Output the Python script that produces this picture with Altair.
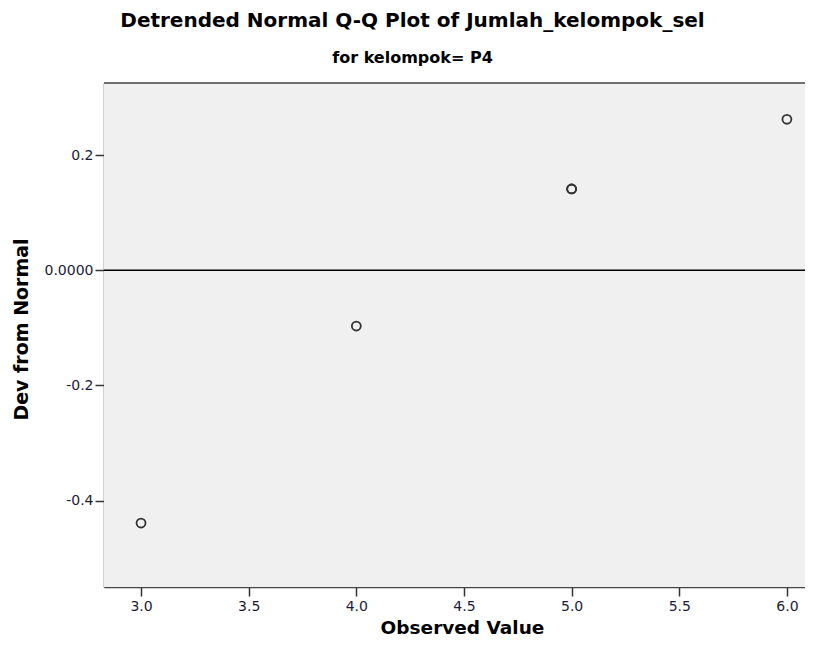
import altair as alt
import pandas as pd

# Data
observed = [3.0, 4.0, 5.0, 5.0, 6.0]
dev_from_normal = [-0.439, -0.097, 0.141, 0.141, 0.262]

x_ticks = [3.0, 3.5, 4.0, 4.5, 5.0, 5.5, 6.0]
y_ticks = [-0.4, -0.2, 0.0, 0.2]

df = pd.DataFrame({"Observed": observed, "Dev": dev_from_normal})
zero_df = pd.DataFrame({"y": [0.0]})

FONT = "DejaVu Sans"

x_scale = alt.Scale(domain=[2.828, 6.084], nice=False, zero=False)
y_scale = alt.Scale(domain=[-0.550, 0.325], nice=False, zero=False)

background = alt.Chart(zero_df).mark_rect(color="#f0f0f0").encode(
    x=alt.value(0), x2=alt.value(701), y=alt.value(0), y2=alt.value(504)
)

points = alt.Chart(df).mark_point(
    shape="circle", filled=False, size=80, strokeWidth=1.8, color="#333333", opacity=1
).encode(
    x=alt.X("Observed:Q", scale=x_scale,
            axis=alt.Axis(values=x_ticks, format=".1f", title="Observed Value",
                          grid=False, tickSize=9, tickWidth=1.5, tickColor="#333333",
                          domainColor="#444444", domainWidth=1.5,
                          labelFont=FONT, labelFontSize=14, labelColor="#1c1c3a",
                          labelPadding=3,
                          titleFont=FONT, titleFontSize=18.5, titleFontWeight="bold",
                          titleColor="#000000", titleX=358, titleY=46,
                          titleAlign="center",
                          titleBaseline="alphabetic")),
    y=alt.Y("Dev:Q", scale=y_scale,
            axis=alt.Axis(values=y_ticks,
                          labelExpr="datum.value == 0 ? '0.0000' : replace(format(datum.value, '.1f'), '\u2212', '-')",
                          title="Dev from Normal",
                          grid=False, tickSize=9, tickWidth=1.5, tickColor="#333333",
                          domainColor="#444444", domainWidth=1.5,
                          labelFont=FONT, labelFontSize=14, labelColor="#1c1c3a",
                          labelPadding=2,
                          titleFont=FONT, titleFontSize=19, titleFontWeight="bold",
                          titleColor="#000000", titleX=-77, titleY=246,
                          titleAngle=-90, titleAlign="center",
                          titleBaseline="alphabetic")),
)

zero_rule = alt.Chart(zero_df).mark_rule(color="#000000", strokeWidth=1.5).encode(
    y=alt.Y("y:Q", scale=y_scale)
)

top_rule = alt.Chart(zero_df).mark_rule(color="#444444", strokeWidth=1.5).encode(
    y=alt.value(0)
)

chart = alt.layer(background, zero_rule, top_rule, points).properties(
    width=701,
    height=504,
    padding={"left": 96, "top": 75, "right": 0, "bottom": 51},
    autosize=alt.AutoSizeParams(type="none"),
    title=alt.TitleParams(
        text="Detrended Normal Q-Q Plot of Jumlah_kelompok_sel",
        subtitle="for kelompok= P4",
        font=FONT, fontSize=20, fontWeight="bold", color="#000000",
        subtitleFont=FONT, subtitleFontSize=16, subtitleFontWeight="bold",
        subtitleColor="#000000",
        anchor="middle", frame="group", dx=-42, offset=16.5, subtitlePadding=18.5,
    ),
).configure_view(
    stroke=None
).configure(background="#ffffff")

chart.save("out.html", embed_options={"renderer": "svg", "actions": False})
